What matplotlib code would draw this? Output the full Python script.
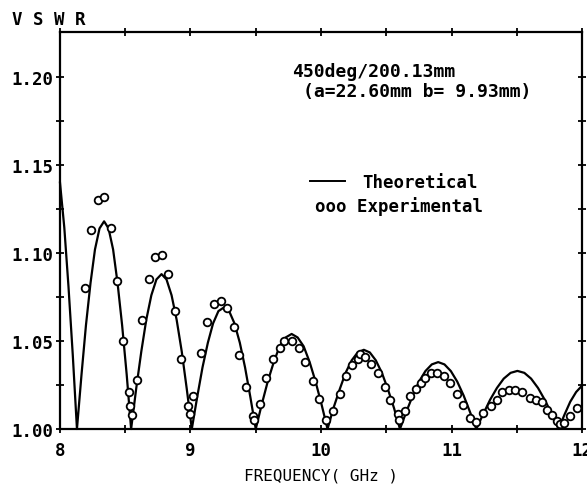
import matplotlib.pyplot as plt
from matplotlib.lines import Line2D

# theoretical VSWR curve
theo_f = [8.000, 8.033, 8.065, 8.098, 8.130,
          8.165, 8.199, 8.234, 8.268, 8.303, 8.338, 8.372, 8.407, 8.441, 8.476, 8.511, 8.545,
          8.584, 8.623, 8.661, 8.700, 8.739, 8.778, 8.816, 8.855, 8.894, 8.933, 8.971, 9.010,
          9.051, 9.092, 9.133, 9.173, 9.214, 9.255, 9.296, 9.337, 9.378, 9.418, 9.459, 9.500,
          9.546, 9.592, 9.638, 9.683, 9.729, 9.775, 9.821, 9.867, 9.913, 9.958, 10.004, 10.050,
          10.096, 10.143, 10.189, 10.235, 10.281, 10.328, 10.374, 10.420, 10.466, 10.513, 10.559, 10.605,
          10.654, 10.703, 10.751, 10.800, 10.849, 10.898, 10.946, 10.995, 11.044, 11.093, 11.141, 11.190,
          11.243, 11.295, 11.348, 11.400, 11.453, 11.505, 11.558, 11.610, 11.663, 11.715, 11.768, 11.820,
          11.865, 11.910, 11.955, 12.000]
theo_v = [1.140, 1.1145, 1.081, 1.042, 1.000,
          1.031, 1.059, 1.083, 1.102, 1.114, 1.118, 1.114, 1.102, 1.083, 1.059, 1.031, 1.000,
          1.023, 1.044, 1.062, 1.076, 1.085, 1.088, 1.085, 1.076, 1.062, 1.044, 1.023, 1.000,
          1.018, 1.035, 1.049, 1.060, 1.067, 1.069, 1.067, 1.060, 1.049, 1.035, 1.018, 1.000,
          1.014, 1.027, 1.038, 1.047, 1.052, 1.054, 1.052, 1.047, 1.038, 1.027, 1.014, 1.000,
          1.012, 1.0225, 1.032, 1.039, 1.0435, 1.045, 1.0435, 1.039, 1.032, 1.0225, 1.012, 1.000,
          1.0098, 1.019, 1.0269, 1.0329, 1.0367, 1.038, 1.0367, 1.0329, 1.0269, 1.019, 1.0098, 1.000,
          1.0085, 1.0165, 1.0233, 1.0286, 1.0319, 1.033, 1.0319, 1.0286, 1.0233, 1.0165, 1.0085, 1.000,
          1.008, 1.0155, 1.021, 1.0246]

# measured points
exp_f = [8.19, 8.24, 8.29, 8.34, 8.39, 8.44, 8.485, 8.53, 8.54, 8.55,
         8.59, 8.63, 8.685, 8.73, 8.78, 8.83, 8.885, 8.93, 8.98, 9.00,
         9.02, 9.08, 9.13, 9.18, 9.23, 9.28, 9.33, 9.37, 9.425, 9.48,
         9.49, 9.53, 9.58, 9.63, 9.685, 9.72, 9.78, 9.83, 9.88, 9.935,
         9.985, 10.04, 10.09, 10.145, 10.19, 10.235, 10.28, 10.30, 10.34, 10.385,
         10.44, 10.49, 10.53, 10.59, 10.60, 10.64, 10.68, 10.73, 10.765, 10.80,
         10.84, 10.89, 10.94, 10.99, 11.04, 11.09, 11.14, 11.19, 11.24, 11.30,
         11.35, 11.39, 11.44, 11.49, 11.54, 11.60, 11.645, 11.695, 11.73, 11.77,
         11.81, 11.83, 11.86, 11.91, 11.96]
exp_v = [1.080, 1.113, 1.130, 1.132, 1.114, 1.084, 1.050, 1.021, 1.013, 1.008,
         1.028, 1.062, 1.085, 1.098, 1.099, 1.088, 1.067, 1.040, 1.013, 1.0085,
         1.019, 1.043, 1.061, 1.071, 1.073, 1.069, 1.058, 1.042, 1.024, 1.0076,
         1.005, 1.014, 1.029, 1.040, 1.046, 1.050, 1.050, 1.046, 1.038, 1.027,
         1.017, 1.005, 1.010, 1.020, 1.030, 1.0365, 1.040, 1.0426, 1.041, 1.037,
         1.032, 1.024, 1.0165, 1.0085, 1.005, 1.010, 1.0186, 1.023, 1.026, 1.029,
         1.032, 1.032, 1.030, 1.026, 1.020, 1.0136, 1.006, 1.0038, 1.009, 1.013,
         1.0167, 1.021, 1.022, 1.0223, 1.021, 1.0174, 1.0165, 1.0155, 1.011, 1.008,
         1.0047, 1.003, 1.0034, 1.0076, 1.0117]

x_ticks = [8, 9, 10, 11, 12]
y_ticks = [1.00, 1.05, 1.10, 1.15, 1.20]

plt.rcParams['font.family'] = ['DejaVu Sans Mono']
plt.rcParams['font.weight'] = 'bold'

fig = plt.figure(figsize=(5.87, 4.89), dpi=100)
ax = fig.add_axes([0.1022, 0.1207, 0.8893, 0.8118])

ax.plot(theo_f, theo_v, color='black', lw=1.6, clip_on=False)
ax.plot(exp_f, exp_v, 'o', ms=5.5, mfc='white', mec='black', mew=1.3,
        linestyle='none')

ax.set_xlim(8, 12)
ax.set_ylim(1.0, 1.2256)
ax.set_xticks(x_ticks)
ax.set_xticks([8.5, 9.5, 10.5, 11.5], minor=True)
ax.set_yticks(y_ticks)
ax.set_yticks([1.025, 1.075, 1.125, 1.175], minor=True)
ax.set_yticklabels(['%.2f' % v for v in y_ticks])
ax.tick_params(which='both', direction='inout', length=6, width=1.3,
               top=True, right=True, labelsize=12.5)
ax.tick_params(axis='x', pad=6)
ax.tick_params(axis='y', pad=2)
for s in ax.spines.values():
    s.set_linewidth(1.6)

ax.set_xlabel('FREQUENCY( GHz )', fontsize=11.5, labelpad=6)
ax.text(-0.092, 1.033, 'V S W R', transform=ax.transAxes, fontsize=12.5,
        ha='left', va='center')
ax.text(0.444, 0.902, '450deg/200.13mm', transform=ax.transAxes,
        fontsize=13, ha='left', va='center')
ax.text(0.4655, 0.851, '(a=22.60mm b= 9.93mm)', transform=ax.transAxes,
        fontsize=13, ha='left', va='center')

handles = [Line2D([], [], color='black', lw=1.4)]
ax.legend(handles, ['Theoretical'], loc='center left',
          bbox_to_anchor=(0.479, 0.622), frameon=False,
          handlelength=2.0, handletextpad=1.0, fontsize=12.5,
          borderpad=0, borderaxespad=0)
ax.text(0.4885, 0.562, 'ooo Experimental', transform=ax.transAxes,
        fontsize=12.5, ha='left', va='center')

fig.savefig('out.png', dpi=100)
